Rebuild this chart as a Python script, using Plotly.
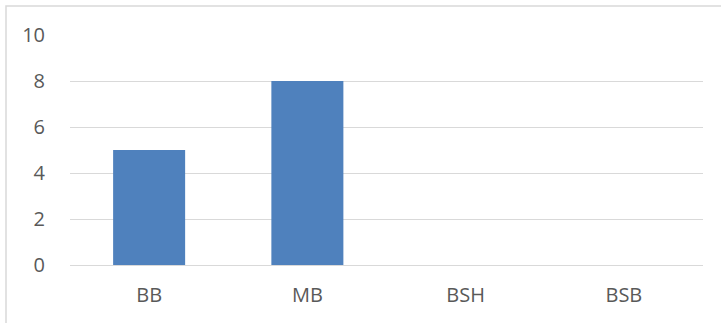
import plotly.graph_objects as go

categories = ["BB", "MB", "BSH", "BSB"]
values = [5, 8, 0, 0]
y_ticks = [0, 2, 4, 6, 8, 10]

W, H = 721, 323
ml, mr, mt, mb = 70, 18, 35, 58
pw, ph = W - ml - mr, H - mt - mb

fig = go.Figure(go.Bar(x=categories, y=values, marker=dict(color="#4F81BD", line=dict(width=0))))

font = dict(family="Open Sans", size=20, color="#595959")

fig.update_layout(
    width=W, height=H,
    margin=dict(l=ml, r=mr, t=mt, b=mb, pad=0),
    paper_bgcolor="white", plot_bgcolor="white",
    bargap=0.545,
    showlegend=False,
    font=font,
)
fig.update_yaxes(
    range=[0, 10], tickvals=y_ticks, showgrid=True, gridcolor="#d9d9d9", gridwidth=1,
    zeroline=False, showline=False, ticks="outside", ticklen=20, tickcolor="rgba(0,0,0,0)",
    tickfont=font,
)
fig.update_xaxes(
    showgrid=False, showline=True, linecolor="#d9d9d9", linewidth=1,
    ticks="outside", ticklen=12, tickcolor="rgba(0,0,0,0)", tickfont=font,
)
# chart border (outer frame)
fig.add_shape(
    type="rect", xref="paper", yref="paper",
    x0=(6 - ml) / pw, x1=(W + 10 - ml) / pw,
    y0=-(H + 10 - mt - ph) / ph, y1=(mt + ph - 6) / ph,
    line=dict(color="#d9d9d9", width=1.5), fillcolor="rgba(0,0,0,0)", layer="below",
)

fig.write_html("out.html")
